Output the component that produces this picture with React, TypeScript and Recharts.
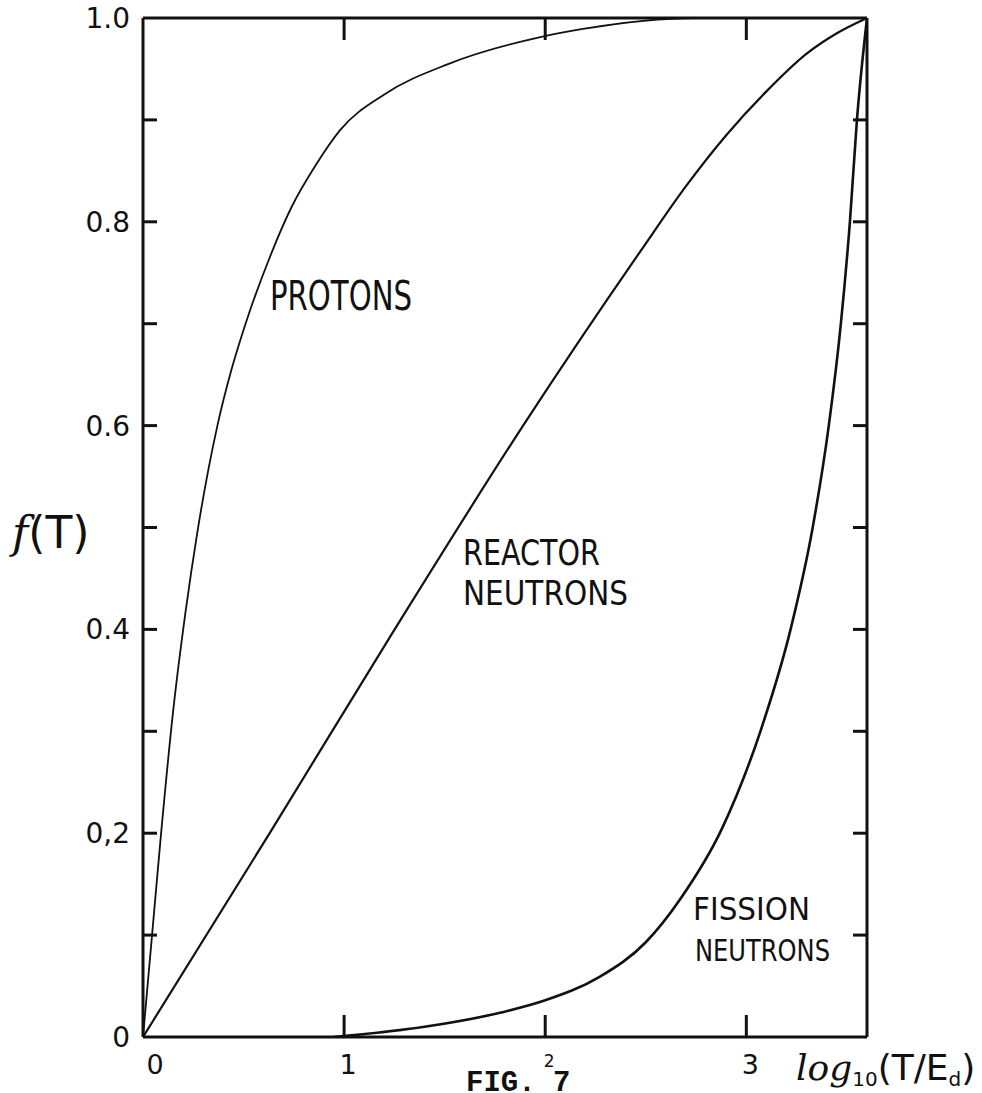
import React from 'react';
import { LineChart, Line, XAxis, YAxis } from 'recharts';

// log10(T/Ed) vs f(T)
const protonsX = [0, 0.045, 0.09, 0.15, 0.21, 0.27, 0.37, 0.44, 0.51, 0.63, 0.74, 0.86, 0.98, 1.2, 1.52, 1.97, 2.18, 2.75, 3.6];
const protonsF = [0, 0.1, 0.2, 0.32, 0.415, 0.495, 0.6, 0.655, 0.7, 0.765, 0.815, 0.856, 0.89, 0.925, 0.955, 0.981, 0.989, 1.0, 1.0];

const reactorX = [0, 0.63, 1.22, 1.89, 2.48, 2.7, 2.9, 3.1, 3.3, 3.45, 3.6];
const reactorF = [0, 0.2, 0.39, 0.6, 0.773, 0.835, 0.885, 0.928, 0.965, 0.985, 1.0];

const fissionX = [0.95, 1.4, 1.78, 2.0, 2.27, 2.5, 2.67, 2.88, 3.07, 3.22, 3.33, 3.41, 3.47, 3.515, 3.55, 3.6];
const fissionF = [0, 0.01, 0.024, 0.036, 0.059, 0.093, 0.135, 0.205, 0.3, 0.4, 0.5, 0.6, 0.7, 0.8, 0.9, 1.0];

const xTicks = [0, 1, 2, 3];
const xInnerTicks = [1, 2, 3];
const yTicks = [0, 0.2, 0.4, 0.6, 0.8, 1.0];
const yTickLabels = ['0', '0,2', '0.4', '0.6', '0.8', '1.0'];
const yInnerTicks = [0.1, 0.2, 0.3, 0.4, 0.5, 0.6, 0.7, 0.8, 0.9];

const X_DOMAIN: [number, number] = [0, 3.6];
const Y_DOMAIN: [number, number] = [0, 1];

const FONT = '"DejaVu Sans", sans-serif';
const INK = '#111';

const toRows = (xs: number[], fs: number[]) => xs.map((x, i) => ({ x, f: fs[i] }));

const XTick = (props: any) => {
  const { x, y, payload } = props;
  const shift = payload.value === 0 ? 12 : 4;
  // the "2" is written small in the original, squeezed above the caption
  const size = payload.value === 2 ? 17 : 27;
  return (
    <text x={x + shift} y={y} dy="0.71em" textAnchor="middle" fontSize={size} fontFamily={FONT} fill={INK}>
      {String(payload.value)}
    </text>
  );
};

const NoLabel = () => <g />;

const axisLine = { stroke: INK, strokeWidth: 3 };
const tickLine = { stroke: INK, strokeWidth: 3 };

export default function App() {
  return (
    <div style={{ position: 'absolute', left: 0, top: 0, width: 982, height: 1093, background: '#fff' }}>
      <LineChart width={982} height={1093} margin={{ top: 18, right: 115, left: 83, bottom: 16 }}>
        <XAxis xAxisId="b" dataKey="x" type="number" domain={X_DOMAIN} allowDataOverflow ticks={xTicks}
          interval={0} axisLine={axisLine} tickLine={false} tickSize={6} tickMargin={12} height={40} tick={<XTick />} />
        <XAxis xAxisId="bm" dataKey="x" type="number" domain={X_DOMAIN} allowDataOverflow ticks={xInnerTicks}
          interval={0} mirror axisLine={false} tickLine={tickLine} tickSize={22} tick={<NoLabel />} height={1} />
        <XAxis xAxisId="t" dataKey="x" type="number" orientation="top" domain={X_DOMAIN} allowDataOverflow
          ticks={xInnerTicks} interval={0} mirror axisLine={axisLine} tickLine={tickLine} tickSize={22}
          tick={<NoLabel />} height={1} />
        <YAxis yAxisId="l" type="number" domain={Y_DOMAIN} allowDataOverflow ticks={yTicks} interval={0}
          width={60} axisLine={axisLine} tickLine={false} tickSize={6} tickMargin={7}
          tickFormatter={(v: number) => yTickLabels[yTicks.indexOf(v)] ?? String(v)}
          tick={{ fontSize: 28, fill: INK, fontFamily: FONT }} />
        <YAxis yAxisId="lm" type="number" domain={Y_DOMAIN} allowDataOverflow ticks={yInnerTicks} interval={0}
          mirror width={1} axisLine={false} tickLine={tickLine} tickSize={14} tick={<NoLabel />} />
        <YAxis yAxisId="rm" orientation="right" type="number" domain={Y_DOMAIN} allowDataOverflow ticks={yInnerTicks}
          interval={0} mirror width={1} axisLine={axisLine} tickLine={tickLine} tickSize={14} tick={<NoLabel />} />

        <Line data={toRows(protonsX, protonsF)} dataKey="f" xAxisId="b" yAxisId="l" type="monotone"
          stroke={INK} strokeWidth={1.8} dot={false} isAnimationActive={false} />
        <Line data={toRows(reactorX, reactorF)} dataKey="f" xAxisId="b" yAxisId="l" type="monotone"
          stroke={INK} strokeWidth={2.2} dot={false} isAnimationActive={false} />
        <Line data={toRows(fissionX, fissionF)} dataKey="f" xAxisId="b" yAxisId="l" type="monotone"
          stroke={INK} strokeWidth={2.6} dot={false} isAnimationActive={false} />
      </LineChart>

      <svg width={982} height={1093} style={{ position: 'absolute', left: 0, top: 0, pointerEvents: 'none' }}>
        <g fill={INK} fontFamily={FONT}>
          <text x={270} y={310} fontSize={40} textLength={142} lengthAdjust="spacingAndGlyphs">PROTONS</text>
          <text x={463} y={565} fontSize={36} textLength={137} lengthAdjust="spacingAndGlyphs">REACTOR</text>
          <text x={463} y={605} fontSize={34} textLength={165} lengthAdjust="spacingAndGlyphs">NEUTRONS</text>
          <text x={693} y={920} fontSize={32} textLength={117} lengthAdjust="spacingAndGlyphs">FISSION</text>
          <text x={695} y={961} fontSize={30} textLength={135} lengthAdjust="spacingAndGlyphs">NEUTRONS</text>

          <text x={12} y={548} fontSize={44}>
            <tspan fontStyle="italic" fontFamily='"DejaVu Serif", serif'>f</tspan>
            <tspan>(T)</tspan>
          </text>

          <text x={796} y={1080} fontSize={36}>
            <tspan fontStyle="italic" fontFamily='"DejaVu Serif", serif'>log</tspan>
            <tspan fontSize={20} dy={6}>10</tspan>
            <tspan dy={-6}>(T/E</tspan>
            <tspan fontSize={20} dy={6}>d</tspan>
            <tspan dy={-6}>)</tspan>
          </text>

          <text x={466} y={1091} fontSize={29} fontWeight="bold" fontFamily='"Liberation Mono", monospace'>FIG. 7</text>
        </g>
      </svg>
    </div>
  );
}
